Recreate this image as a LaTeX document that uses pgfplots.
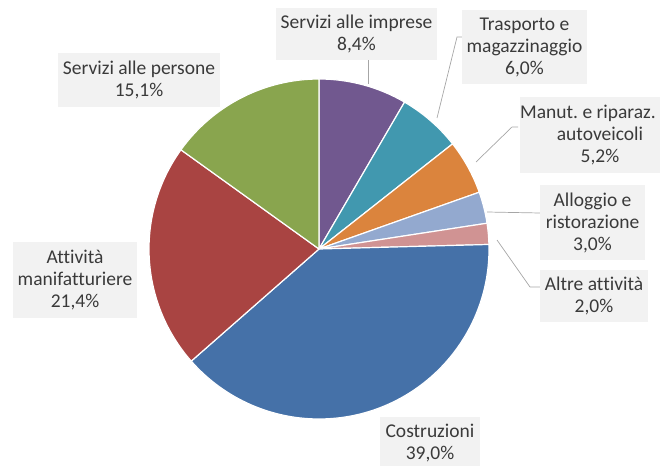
\documentclass[border=0pt]{standalone}
\usepackage{pgfplots}
\usepackage{pgfplotstable}
\pgfplotsset{compat=1.18}
\usepackage{fontspec}
\setmainfont{Carlito}[Ligatures=NoCommon]
\frenchspacing

\definecolor{cimp}{HTML}{71588F}
\definecolor{ctra}{HTML}{4198AF}
\definecolor{cman}{HTML}{DB843D}
\definecolor{call}{HTML}{93A9CF}
\definecolor{calt}{HTML}{D09393}
\definecolor{ccos}{HTML}{4571A8}
\definecolor{cmfg}{HTML}{A94442}
\definecolor{cper}{HTML}{89A54E}
\definecolor{lblfill}{HTML}{F2F2F2}
\definecolor{lbltext}{HTML}{3A3A3A}
\definecolor{leadc}{HTML}{A6A6A6}

% shares in clockwise order from 12 o'clock
\pgfplotstableread{
v    c
8.4  cimp
6.0  ctra
5.2  cman
3.0  call
2.0  calt
39.0 ccos
21.4 cmfg
15.1 cper
}\piedata

\begin{document}
\begin{tikzpicture}[
    lbl/.style={fill=lblfill, text=lbltext, align=center, inner sep=0pt,
        font=\fontsize{19.5}{22}\selectfont},
    leader/.style={draw=leadc, line width=0.7pt}]
\begin{axis}[
    width=660pt, height=465pt,
    scale only axis,
    xmin=0, xmax=660,
    ymin=0, ymax=465,
    y dir=reverse,
    hide axis,
    clip=false]

  \coordinate (bl) at (axis cs:0,465);
  \coordinate (tr) at (axis cs:660,0);

  \pgfplotstablegetrowsof{\piedata}
  \pgfmathtruncatemacro\N{\pgfplotsretval-1}
  \def\cum{0}
  \pgfplotsforeachungrouped \i in {0,...,\N}{
    \pgfplotstablegetelem{\i}{v}\of\piedata \let\val\pgfplotsretval
    \pgfplotstablegetelem{\i}{c}\of\piedata \let\col\pgfplotsretval
    \pgfmathsetmacro\a{90-\cum/100.1*360}
    \pgfmathsetmacro\cum{\cum+\val}
    \pgfmathsetmacro\b{90-\cum/100.1*360}
    \edef\temp{\noexpand\filldraw[fill=\col, draw=white, line width=1.2pt, line join=round]
      (axis cs:319,249) -- ++(\a:170pt) arc[start angle=\a, end angle=\b, radius=170pt] -- cycle;}
    \temp
  }

  % leader lines
  \draw[leader] (axis cs:368,60) -- (axis cs:368,84);
  \draw[leader] (axis cs:462,37) -- (axis cs:457,37) -- (axis cs:437,118);
  \draw[leader] (axis cs:518,127) -- (axis cs:512,127) -- (axis cs:476,162);
  \draw[leader] (axis cs:540,213) -- (axis cs:487,212);
  \draw[leader] (axis cs:540,287) -- (axis cs:530,287) -- (axis cs:497,240);

  % data labels
  \node[lbl, minimum width=162pt, minimum height=54pt] at (axis cs:139,80) {Servizi alle persone\\15,1\%};
  \node[lbl, minimum width=161pt, minimum height=52pt] at (axis cs:356.5,34) {Servizi alle imprese\\8,4\%};
  \node[lbl, minimum width=125pt, minimum height=74pt] at (axis cs:524.5,47) {Trasporto e\\magazzinaggio\\6,0\%};
  \node[lbl, minimum width=160pt, minimum height=76pt] at (axis cs:600,135) {Manut. e riparaz.\hspace*{24pt}\\autoveicoli\\5,2\%};
  \node[lbl, minimum width=105pt, minimum height=75pt] at (axis cs:592.5,222.5) {Alloggio e\\ristorazione\\3,0\%};
  \node[lbl, minimum width=108pt, minimum height=52pt] at (axis cs:594,296) {Altre attività\\2,0\%};
  \node[lbl, minimum width=124pt, minimum height=76pt] at (axis cs:75,280) {Attività\\manifatturiere\\21,4\%};
  \node[lbl, minimum width=100pt, minimum height=52pt] at (axis cs:430,443) {Costruzioni\\39,0\%};
\end{axis}
\pgfresetboundingbox
\path (bl) rectangle (tr);
\end{tikzpicture}
\end{document}
